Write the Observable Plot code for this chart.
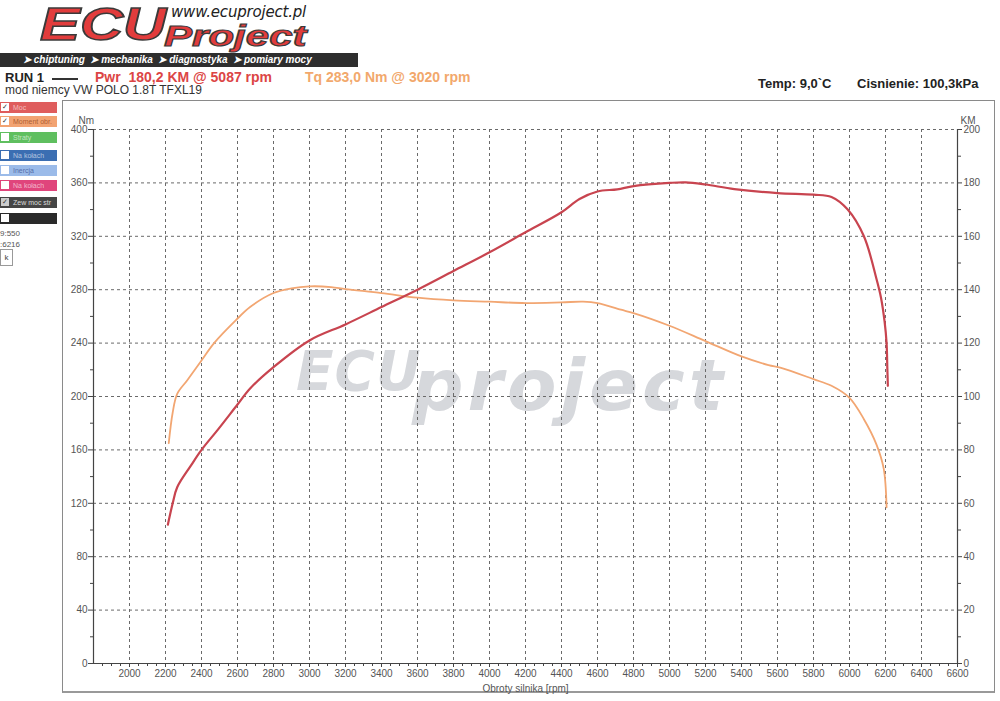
<!DOCTYPE html>
<html><head><meta charset="utf-8">
<script src="https://cdn.jsdelivr.net/npm/d3@7"></script>
<script src="https://cdn.jsdelivr.net/npm/@observablehq/plot@0.6"></script>
<style>
body{margin:0;width:1000px;height:701px;position:relative;background:#fff;font-family:"Liberation Sans",Arial,sans-serif;overflow:hidden}
.abs{position:absolute;white-space:pre}
.leg{position:absolute;left:0;width:57px;height:11px;font-size:7px;line-height:11px;color:rgba(255,255,255,0.6);white-space:nowrap;overflow:hidden}
.leg .cb{display:inline-block;width:8px;height:8px;margin:1px 4px 0 1px;background:#fff;vertical-align:top;font-size:7px;line-height:8px;color:#333;text-align:center}
</style></head><body>

<!-- logo -->
<div class="abs" style="left:40px;top:3px;font:italic 900 46px/42px 'Liberation Sans';color:#e23c3c;-webkit-text-stroke:1.5px #3a3a3a;transform:scaleX(1.3);transform-origin:left top">ECU</div>
<div class="abs" style="left:171px;top:6px;font:italic 15px/13px 'DejaVu Sans';color:#222;letter-spacing:-0.2px">www.ecuproject.pl</div>
<div class="abs" style="left:164px;top:23px;font:italic 900 29px/26px 'Liberation Sans';color:#e23c3c;-webkit-text-stroke:1.1px #3a3a3a;transform:scaleX(1.45);transform-origin:left top">Project</div>
<div class="abs" style="left:0;top:53px;width:358px;height:14px;background:#2e2e2e"></div>
<div class="abs" style="left:23px;top:54px;font:italic bold 10px/12px 'Liberation Sans';color:#fff">➤ chiptuning  ➤ mechanika  ➤ diagnostyka  ➤ pomiary mocy</div>

<!-- header texts -->
<div class="abs" style="left:5px;top:72px;font:bold 13px/11px 'Liberation Sans';color:#222">RUN 1</div>
<div class="abs" style="left:52px;top:78px;width:26px;height:2px;background:#333"></div>
<div class="abs" style="left:95px;top:71px;font:bold 14px/12px 'Liberation Sans';color:#dc4545">Pwr  180,2 KM @ 5087 rpm</div>
<div class="abs" style="left:305px;top:71px;font:bold 14px/12px 'Liberation Sans';color:#f2a86c">Tq 283,0 Nm @ 3020 rpm</div>
<div class="abs" style="left:5px;top:86px;font:12px/9px 'Liberation Sans';color:#333">mod niemcy VW POLO 1.8T TFXL19</div>
<div class="abs" style="left:758px;top:77px;font:bold 13px/13px 'Liberation Sans';color:#222">Temp: 9,0`C</div>
<div class="abs" style="left:857px;top:77px;font:bold 13px/13px 'Liberation Sans';color:#222">Cisnienie: 100,3kPa</div>

<!-- left legend panel -->
<div class="leg" style="top:102px;background:#df5d5d"><span class="cb">✓</span>Moc</div>
<div class="leg" style="top:116px;background:#f2a372;color:rgba(120,40,0,0.6)"><span class="cb">✓</span>Moment obr.</div>
<div class="leg" style="top:132px;background:#5fbf5f"><span class="cb"></span>Straty</div>
<div class="leg" style="top:150px;background:#3b6eb2"><span class="cb"></span>Na kołach</div>
<div class="leg" style="top:165px;background:#9bbbe9;color:rgba(30,50,120,0.6)"><span class="cb"></span>Inercja</div>
<div class="leg" style="top:180px;background:#e0457c"><span class="cb"></span>Na kołach</div>
<div class="leg" style="top:197px;background:#454545;color:rgba(255,255,255,0.8)"><span class="cb" style="background:#ccc">✓</span>Zew moc str</div>
<div class="leg" style="top:213px;background:#2a2a2a"><span class="cb"></span></div>
<div class="abs" style="left:0;top:229px;font:8px/9px 'Liberation Sans';color:#555">9:550</div>
<div class="abs" style="left:0;top:240px;font:8px/9px 'Liberation Sans';color:#555">:6216</div>
<div class="abs" style="left:0;top:249px;width:11px;height:15px;border:1px solid #999;font:8px/15px 'Liberation Sans';color:#444;text-align:center">k</div>

<!-- chart frame -->
<div class="abs" style="left:62px;top:100px;width:931px;height:590px;border:1px solid #8a8a8a;border-bottom:2px solid #999"></div>

<!-- watermark -->
<div class="abs" style="left:296px;top:344px;font:italic bold 55px/55px 'DejaVu Sans';color:#d6d8dc;letter-spacing:1px">ECU</div>
<div class="abs" style="left:412px;top:349px;font:italic bold 72px/72px 'DejaVu Sans';color:#d6d8dc;letter-spacing:4px">project</div>

<div id="chart" class="abs" style="left:0;top:100px"></div>

<script>
// Torque curve (Nm) vs engine speed (rpm)
const torqueRpm = [2218, 2240, 2265, 2320, 2400, 2470, 2590, 2670, 2800, 2900, 3000, 3120, 3200, 3400, 3600, 3800, 4000, 4200, 4400, 4520, 4600, 4730, 4800, 5000, 5200, 5400, 5550, 5620, 5800, 5900, 6000, 6080, 6150, 6190, 6206];
const torqueNm  = [165, 188, 202, 212, 227, 240, 257, 267, 277.5, 281, 282.5, 282, 280.5, 277.5, 274, 272, 271, 270, 270.5, 271, 270, 265, 262.5, 253, 241.5, 230, 223.5, 221.5, 213, 208, 199, 183, 164, 146, 117];

// Power curve (KM) vs engine speed (rpm)
const powerRpm = [2213, 2240, 2265, 2340, 2400, 2490, 2600, 2670, 2800, 3000, 3200, 3400, 3600, 3800, 4000, 4200, 4400, 4500, 4600, 4710, 4800, 5000, 5090, 5200, 5360, 5600, 5800, 5900, 5990, 6080, 6150, 6175, 6195, 6206, 6210, 6213];
const powerKm  = [52, 60, 66, 74, 80, 87.5, 97, 103, 111, 121, 127, 133.5, 140, 147, 154, 161.5, 169, 174, 176.8, 177.6, 178.8, 180, 180.2, 179.4, 177.7, 176.2, 175.6, 174.7, 170, 160, 144, 137, 128, 120, 111, 104];

// Axis ticks
const rpmTicks = d3.range(2000, 6601, 200);
const rpmMinor = d3.range(1850, 6600, 50).filter(d => d % 200 !== 0);
const nmTicks = d3.range(0, 401, 40);
const nmMinor = d3.range(20, 400, 40);
const kmPerNm = 0.5; // right axis: 200 KM at top = 400 Nm

const torque = torqueRpm.map((r, i) => ({rpm: r, v: torqueNm[i]}));
const power = powerRpm.map((r, i) => ({rpm: r, v: powerKm[i] / kmPerNm}));

const axisColor = "#444";
const chart = Plot.plot({
  width: 1000,
  height: 600,
  marginLeft: 93,
  marginRight: 43,
  marginTop: 29,
  marginBottom: 37,
  x: {domain: [1800, 6600], label: null},
  y: {domain: [0, 400], label: null},
  style: {fontFamily: "'Liberation Sans', Arial, sans-serif", fontSize: "10px", color: "#555", background: "transparent"},
  marks: [
    Plot.gridX(rpmTicks, {stroke: "#6a6a6a", strokeOpacity: 1, strokeDasharray: "3,3"}),
    Plot.gridY(nmTicks.filter(d => d > 0), {stroke: "#6a6a6a", strokeOpacity: 1, strokeDasharray: "3,3"}),
    Plot.ruleX([1800], {stroke: axisColor, strokeWidth: 1.2}),
    Plot.ruleX([6600], {stroke: axisColor, strokeWidth: 1.2}),
    Plot.ruleY([0], {stroke: axisColor, strokeWidth: 1.2}),
    Plot.axisY(nmTicks, {anchor: "left", tickSize: 5, tickPadding: 1, stroke: axisColor, fill: "#555", label: null}),
    Plot.axisY(nmMinor, {anchor: "left", tickSize: 3, tickFormat: () => "", stroke: axisColor, label: null}),
    Plot.axisY(nmTicks, {anchor: "right", tickSize: 4, tickPadding: 2, tickFormat: d => String(d * kmPerNm), stroke: axisColor, fill: "#555", label: null}),
    Plot.axisY(nmMinor, {anchor: "right", tickSize: 3, tickFormat: () => "", stroke: axisColor, label: null}),
    Plot.axisX(rpmTicks, {anchor: "bottom", tickSize: 4, tickPadding: 2, tickFormat: d => String(d), stroke: axisColor, fill: "#555",
      label: "Obroty silnika [rpm]", labelAnchor: "center", labelArrow: "none", labelOffset: 28}),
    Plot.axisX(rpmMinor, {anchor: "bottom", tickSize: 3, tickFormat: () => "", stroke: axisColor, label: null}),
    Plot.text(["Nm"], {frameAnchor: "top-left", dx: -15, dy: -13, fill: "#555", fontSize: 10}),
    Plot.text(["KM"], {frameAnchor: "top-right", dx: 18, dy: -13, fill: "#555", fontSize: 10}),
    Plot.line(torque, {x: "rpm", y: "v", stroke: "#f2a672", strokeWidth: 1.8, curve: "catmull-rom"}),
    Plot.line(power, {x: "rpm", y: "v", stroke: "#c8444f", strokeWidth: 2.2, curve: "catmull-rom"})
  ]
});
document.getElementById("chart").appendChild(chart);
</script>
</body></html>
